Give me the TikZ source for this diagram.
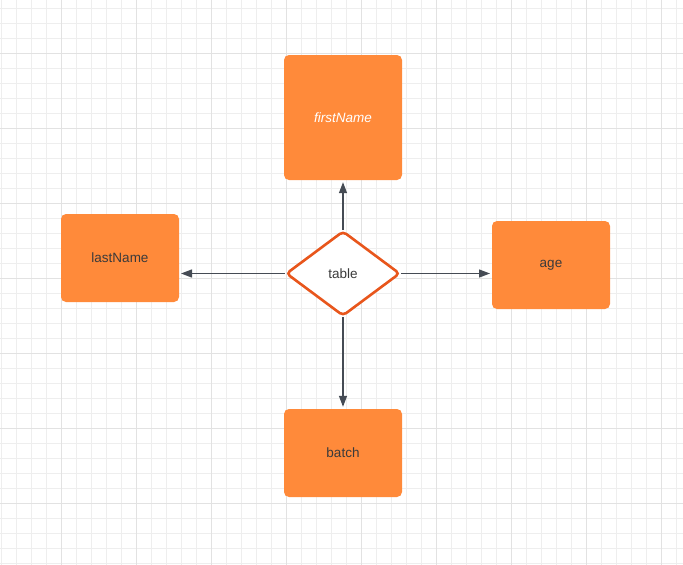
\documentclass[tikz,border=0pt]{standalone}
\usepackage{fontspec}
\setmainfont{Liberation Sans}
\usetikzlibrary{shapes.geometric,arrows.meta}
\definecolor{boxorange}{HTML}{FF8A3A}
\definecolor{diaborder}{HTML}{E8561C}
\definecolor{linegray}{HTML}{454B54}
\definecolor{txtgray}{HTML}{3A3A3A}
\definecolor{gridminor}{HTML}{EEEEEE}
\definecolor{gridmajor}{HTML}{E2E2E2}
\tikzset{
  x=1pt, y=-1pt,
  attr/.style={rectangle, rounded corners=5pt, fill=boxorange, draw=none,
    minimum width=118pt, inner sep=0pt, text=txtgray,
    font=\fontsize{13.5}{15}\selectfont},
  rel/.style={diamond, draw=diaborder, line width=2.6pt, fill=white,
    rounded corners=4pt, minimum width=114pt, minimum height=85pt, inner sep=0pt,
    aspect=1.33, text=txtgray, font=\fontsize{13.5}{15}\selectfont},
  conn/.style={draw=linegray, line width=1.3pt, -{Triangle[length=11pt,width=8pt]}, shorten >=2pt}
}
\begin{document}
\begin{tikzpicture}
\useasboundingbox (0,0) rectangle (683,565);
\fill[white] (0,0) rectangle (683,565);
% minor grid
\foreach \i in {0,...,45} {
  \draw[gridminor, line width=0.8pt] ({1+15*\i},0) -- ({1+15*\i},565);
}
\foreach \j in {0,...,37} {
  \draw[gridminor, line width=0.8pt] (0,{8+15*\j}) -- (683,{8+15*\j});
}
% major grid
\foreach \i in {0,...,9} {
  \draw[gridmajor, line width=0.9pt] ({-14+75*\i},0) -- ({-14+75*\i},565);
}
\foreach \j in {0,...,7} {
  \draw[gridmajor, line width=0.9pt] (0,{-22+75*\j}) -- (683,{-22+75*\j});
}

\node[attr, minimum height=125pt, text=white, font=\fontsize{13.5}{15}\selectfont\itshape] (first) at (343,117.5) {firstName};
\node[attr, minimum height=88pt] (last) at (120,258) {lastName};
\node[attr, minimum height=88pt] (age) at (551,265) {age};
\node[attr, minimum height=88pt] (batch) at (343,453) {batch};
\node[rel] (tab) at (343,273.5) {table};

\coordinate (lastR) at (179,273.5);
\coordinate (ageL) at (492,273.5);

\draw[conn] (tab.north) -- (first.south);
\draw[conn] (tab.west) -- (lastR);
\draw[conn] (tab.east) -- (ageL);
\draw[conn] (tab.south) -- (batch.north);
\end{tikzpicture}
\end{document}
